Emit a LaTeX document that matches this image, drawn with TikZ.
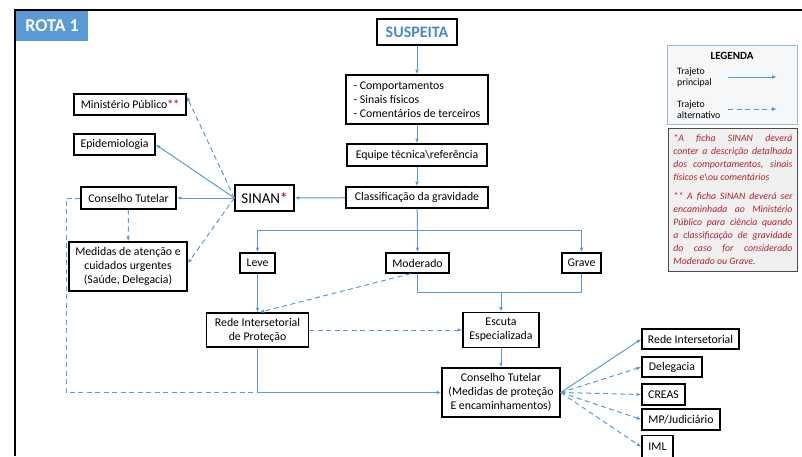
\documentclass[tikz,border=0pt]{standalone}
\usepackage{fontspec}
\setmainfont{Carlito}
\usetikzlibrary{arrows.meta}
\definecolor{flowblue}{RGB}{91,155,213}
\definecolor{rotablue}{RGB}{91,155,213}
\definecolor{susblue}{RGB}{75,135,200}
\definecolor{notered}{RGB}{178,34,44}
\definecolor{notegray}{RGB}{240,240,240}
\definecolor{leggray}{RGB}{246,247,248}
\definecolor{legblue}{RGB}{160,185,210}

\begin{document}
\begin{tikzpicture}[x=1pt,y=-1pt,>={Latex[length=4.8pt,width=3.8pt]}]
\tikzstyle{box}=[draw,line width=1.3pt,inner sep=2pt,align=center,font=\fontsize{11.8}{14}\selectfont];
\tikzstyle{main}=[->,flowblue,line width=1pt];
\tikzstyle{alt}=[->,flowblue,line width=1pt,dash pattern=on 5pt off 3.5pt];
\tikzstyle{link}=[flowblue,line width=1pt];
\tikzstyle{altlink}=[flowblue,line width=1pt,dash pattern=on 5pt off 3.5pt];
\useasboundingbox (0,0) rectangle (802,456);
\clip (0,0) rectangle (802,456);

% frame and title
\draw [line width=1.5pt] (15,456) -- (15,10) -- (802,10);
\node (rota) [fill=rotablue,text=white,minimum width=72pt,minimum height=30pt,font=\bfseries\fontsize{18}{20}\selectfont] at (52,26) {ROTA 1};

% main column
\node (sus) [box,minimum width=80pt,minimum height=26pt,text=susblue,font=\bfseries\fontsize{16}{18}\selectfont] at (417,32) {SUSPEITA};
\node (comp) [box,minimum width=142pt,minimum height=49pt,align=left] at (417,99.5) {- Comportamentos\\- Sinais físicos\\- Comentários de terceiros};
\node (eq) [box,minimum width=140pt,minimum height=22pt] at (417,155) {Equipe técnica\textbackslash referência};
\node (cls) [box,minimum width=142pt,minimum height=21pt] at (417,197.5) {Classificação da gravidade};
\draw [main] (sus) edge (comp);
\draw [main] (comp) edge (eq);
\draw [main] (eq) edge (cls);

% SINAN and left side
\node (sin) [box,minimum width=59pt,minimum height=26pt,font=\fontsize{15}{17}\selectfont] at (264.5,198) {SINAN{\color{notered}\bfseries*}};
\node (ct1) [box,minimum width=95pt,minimum height=22pt] at (128.5,198) {Conselho Tutelar};
\node (epi) [box,minimum width=81pt,minimum height=21pt] at (114.5,144.5) {Epidemiologia};
\node (mp) [box,minimum width=112pt,minimum height=21pt] at (130,104.5) {Ministério Público{\color{notered}\bfseries**}};
\node (med) [box,minimum width=118pt,minimum height=49pt] at (128,266.5) {Medidas de atenção e\\cuidados urgentes\\(Saúde, Delegacia)};
\draw [main] (cls) edge (sin);
\draw [main] (sin) edge (ct1);
\draw [main] (sin.west) -- (epi.east);
\draw [alt] (sin.west) -- ([yshift=-3pt]mp.north east);
\draw [alt] (sin.west) -- ([yshift=3pt]med.east);
\draw [alt] (ct1) edge (med);

% gravidade
\node (leve) [box,minimum width=35pt,minimum height=20pt] at (257.5,263) {Leve};
\node (mod) [box,minimum width=63pt,minimum height=20pt] at (417.5,263) {Moderado};
\node (grave) [box,minimum width=39pt,minimum height=20pt] at (581.5,263) {Grave};
\coordinate (b1) at (417.5,230);
\draw [link] (cls) -- (b1);
\draw [main] (b1) -| (leve);
\draw [main] (b1) -| (grave);
\draw [main] (b1) -- (mod);

\node (rede) [box,minimum width=102pt,minimum height=34pt] at (257.5,330) {Rede Intersetorial\\de Proteção};
\node (esc) [box,minimum width=76pt,minimum height=35pt] at (501,330) {Escuta\\Especializada};
\node (ct2) [box,minimum width=118pt,minimum height=49pt] at (501,392.5) {Conselho Tutelar\\(Medidas de proteção\\E encaminhamentos)};
\coordinate (b2) at (501,292);
\coordinate (c1) at (66,392.5);
\draw [main] (leve) edge (rede);
\draw [alt] ([xshift=-7pt]mod.south) -- ([xshift=2pt]rede.north);
\draw [link] (mod) |- (b2);
\draw [link] (grave) |- (b2);
\draw [main] (b2) -- (esc);
\draw [alt] (rede) edge (esc);
\draw [main] (esc) edge (ct2);
\draw [altlink] (ct1.west) -| (c1) -- (rede |- c1);
\draw [main] (rede) |- (ct2);

% encaminhamentos
\node (o1) [box,minimum width=97pt,minimum height=20pt] at (690.5,339) {Rede Intersetorial};
\node (o2) [box,minimum width=60pt,minimum height=20pt] at (672,367) {Delegacia};
\node (o3) [box,minimum width=43pt,minimum height=21pt] at (663.5,394.5) {CREAS};
\node (o4) [box,minimum width=78pt,minimum height=21pt] at (681,419.5) {MP/Judiciário};
\node (o5) [box,minimum width=31pt,minimum height=23pt] at (657.5,447) {IML};
\draw [main] (ct2.east) -- (o1.west);
\draw [alt] (ct2.east) -- (o2.west);
\draw [alt] (ct2.east) -- (o3.west);
\draw [alt] (ct2.east) -- (o4.west);
\draw [alt] (ct2.east) -- (o5.west);

% legenda
\node (leg) [draw=legblue,fill=leggray,line width=0.8pt,minimum width=130pt,minimum height=79pt] at (732,84.5) {};
\node (legt) [font=\bfseries\fontsize{11}{12}\selectfont] at (732,56) {LEGENDA};
\node (leg1) [anchor=west,align=left,inner sep=0pt,font=\fontsize{9.8}{11.5}\selectfont] at (677,77.5) {Trajeto\\principal};
\node (leg2) [anchor=west,align=left,inner sep=0pt,font=\fontsize{9.8}{11.5}\selectfont] at (677,109.5) {Trajeto\\alternativo};
\coordinate (l1a) at (728,77);
\coordinate (l1b) at (777,77);
\coordinate (l2a) at (728,109);
\coordinate (l2b) at (777,109);
\draw [main] (l1a) -- (l1b);
\draw [alt] (l2a) -- (l2b);

\node (nota) [anchor=north west,fill=notegray,draw=gray!60!black,line width=0.8pt,text width=119pt,minimum height=143pt,inner sep=5pt,align=justify,text=notered,font=\itshape\fontsize{9.8}{13}\selectfont] at (668,128)
{*A ficha SINAN deverá\linebreak conter a descrição detalhada\linebreak dos comportamentos, sinais\linebreak físicos e\textbackslash ou comentários\par\vspace{6pt}
** A ficha SINAN deverá ser\linebreak encaminhada ao Ministério\linebreak Público para ciência quando\linebreak a classificação de gravidade\linebreak do caso for considerado\linebreak Moderado ou Grave.};
\end{tikzpicture}
\end{document}
